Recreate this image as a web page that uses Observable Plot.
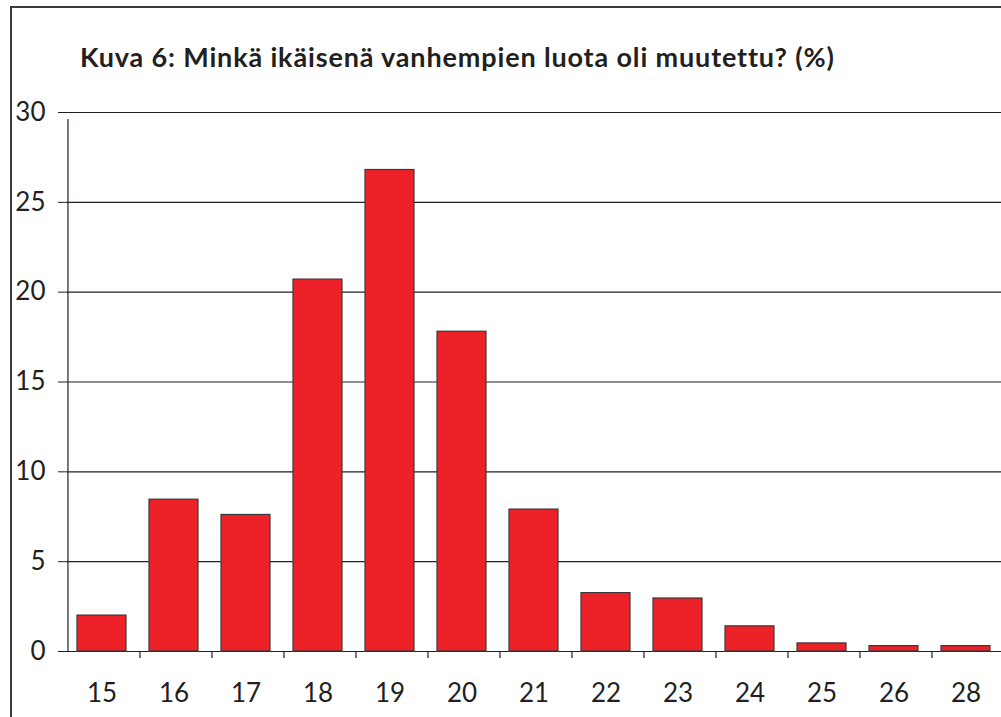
<!DOCTYPE html>
<html>
<head>
<meta charset="utf-8">
<script src="https://cdn.jsdelivr.net/npm/d3@7"></script>
<script src="https://cdn.jsdelivr.net/npm/@observablehq/plot@0.6"></script>
<style>
  html, body { margin: 0; padding: 0; background: #fff; overflow: hidden; }
  #wrap { position: relative; width: 1001px; height: 717px; overflow: hidden; background: #fff; }
  #frame { position: absolute; left: 10px; top: 6px; width: 1200px; height: 900px;
           border-left: 2px solid #3c3c3c; border-top: 2px solid #3c3c3c; pointer-events: none; }
  #title { box-sizing: border-box; height: 100px; padding-top: 43px; padding-left: 80px;
           font-family: Lato, "Open Sans", sans-serif; font-weight: bold; font-size: 27px;
           letter-spacing: 0.85px; line-height: 27px; color: #231f20; white-space: nowrap; }
  #chart svg { display: block; }
</style>
</head>
<body>
<div id="wrap">
  <div id="title">Kuva 6: Minkä ikäisenä vanhempien luota oli muutettu? (%)</div>
  <div id="chart"></div>
  <div id="frame"></div>
</div>
<script>
// Data
const ages = ["15", "16", "17", "18", "19", "20", "21", "22", "23", "24", "25", "26", "28"];
const shares = [2.0, 8.45, 7.6, 20.7, 26.8, 17.8, 7.9, 3.25, 2.95, 1.4, 0.45, 0.3, 0.3];
const yTicks = [0, 5, 10, 15, 20, 25, 30];

const data = ages.map((age, i) => ({age, share: shares[i]}));

const marginLeft = 65;
const rangeEnd = 1002;
const step = (rangeEnd - marginLeft) / ages.length;
const tickShift = -step / 2 + 2;

const chart = Plot.plot({
  width: 1001,
  height: 617,
  marginTop: 12,
  marginBottom: 66,
  marginLeft: marginLeft,
  marginRight: 1001 - rangeEnd,
  style: {
    fontFamily: "Lato, 'Open Sans', sans-serif",
    fontSize: "26px",
    color: "#231f20",
    background: "transparent",
    overflow: "visible"
  },
  x: {domain: ages, paddingInner: 0.32, paddingOuter: 0.16},
  y: {domain: [0, 30], ticks: yTicks},
  marks: [
    Plot.ruleY(yTicks, {stroke: "#231f20", strokeWidth: 1.2, insetLeft: 2}),
    Plot.barY(data, {x: "age", y: "share", fill: "#ed2229", stroke: "#3a3a3a", strokeWidth: 1.2}),
    // vertical axis line at the left edge of the first band
    Plot.ruleX([ages[0]], {y1: 0, y2: 30, dx: tickShift, insetBottom: -7, stroke: "#231f20", strokeWidth: 1.2}),
    // category boundary ticks below the baseline
    Plot.ruleX(ages.slice(1), {y1: 0, y2: 0, dx: tickShift, insetBottom: -7, stroke: "#231f20", strokeWidth: 1.2}),
    Plot.axisY({ticks: yTicks, tickSize: 9, tickPadding: 13, dx: 2, label: null, tickFormat: d => String(d)}),
    Plot.axisX({tickSize: 0, tickPadding: 32, label: null})
  ]
});
document.getElementById("chart").appendChild(chart);
</script>
</body>
</html>
